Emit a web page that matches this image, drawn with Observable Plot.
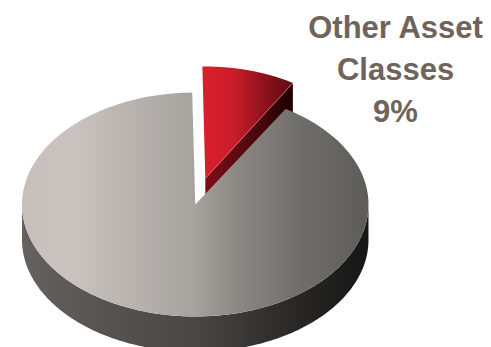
<!DOCTYPE html>
<html>
<head>
<meta charset="utf-8">
<script src="https://cdn.jsdelivr.net/npm/d3@7"></script>
<script src="https://cdn.jsdelivr.net/npm/@observablehq/plot@0.6"></script>
<style>
  html, body { margin: 0; padding: 0; background: #fff; }
  svg { display: block; }
</style>
</head>
<body>
<div id="chart"></div>
<script>
// Allocation shares, in percent
const categories = ["Core Holdings", "Other Asset Classes"];
const shares = [91, 9];
const calloutLines = ["Other Asset", "Classes"];

// Pie geometry in unit-circle terms
const thickness = 0.315;             // wall height, in y units
const lift = { x: 0.058, y: 0.232 }; // how far the small slice is pulled out
const twist = -1;                    // degrees of rotation of the whole pie
const narrowing = 0.97;              // the pulled-out slice reads slightly narrower

const rim = (deg, dx = 0, dy = 0, sx = 1) => {
  const a = (deg + twist) * Math.PI / 180;
  return { x: Math.sin(a) * sx + dx, y: Math.cos(a) + dy };
};
const arc = (from, to, dx = 0, dy = 0, sx = 1) =>
  d3.range(0, 181).map(i => rim(from + (to - from) * i / 180, dx, dy, sx));

const smallSweep = shares[1] / d3.sum(shares) * 360;

// Top faces and walls
const mainTop = [{ x: 0, y: 0 }, ...arc(smallSweep, 360)];
const mainWall = [
  ...arc(90, 270),
  ...arc(270, 90, 0, -thickness)
];
const smallTop = [
  { x: lift.x, y: lift.y },
  ...arc(0, smallSweep, lift.x, lift.y, narrowing)
];
const smallCut = [
  { x: lift.x, y: lift.y },
  rim(smallSweep, lift.x, lift.y, narrowing),
  rim(smallSweep, lift.x, lift.y - thickness, narrowing),
  { x: lift.x, y: lift.y - thickness }
];

// Horizontal shading ramps used by the faces
const ramps = {
  mainTopShade: [[0, "#c6bfbc"], [0.15, "#c9c2bf"], [0.5, "#a6a29e"], [0.63, "#8a8783"], [0.8, "#706e6b"], [1, "#5e5c59"]],
  mainWallShade: [[0, "#65615e"], [0.22, "#575451"], [0.5, "#494745"], [0.8, "#282726"], [1, "#161616"]],
  smallTopShade: [[0, "#da1f2c"], [0.35, "#c81d29"], [0.7, "#8c121b"], [1, "#5e0a12"]],
  smallCutShade: [[0, "#7d0e17"], [0.5, "#52090f"], [1, "#1e0003"]]
};

const gradients = () => {
  const defs = d3.create("svg:defs");
  for (const [id, stops] of Object.entries(ramps)) {
    const g = defs.append("linearGradient").attr("id", id);
    for (const [offset, color] of stops) {
      g.append("stop").attr("offset", offset).attr("stop-color", color);
    }
  }
  return defs.node();
};

const face = (points, fill, extra = {}) =>
  Plot.line(points, { x: "x", y: "y", curve: "linear-closed", stroke: "none", fill, ...extra });

const chart = Plot.plot({
  width: 491,
  height: 347,
  margin: 0,
  x: { domain: [-1, 1], range: [21.5, 368], axis: null },
  y: { domain: [-1, 1], range: [316, 92], axis: null },
  marks: [
    gradients,
    face(smallCut, "url(#smallCutShade)"),
    face(smallTop, "url(#smallTopShade)"),
    Plot.line([smallTop[0], smallTop[smallTop.length - 1]], {
      x: "x", y: "y", stroke: "#e2747c", strokeWidth: 0.7
    }),
    face(mainWall, "url(#mainWallShade)"),
    face(mainTop, "url(#mainTopShade)"),
    Plot.text([[...calloutLines, `${shares[1]}%`].join("\n")], {
      x: 1.156,
      y: 1.236,
      text: d => d,
      textAnchor: "middle",
      lineAnchor: "middle",
      lineHeight: 1.355,
      fontSize: 31,
      fontWeight: "bold",
      fontFamily: "Liberation Sans, Arial, sans-serif",
      fill: "#6f645c"
    })
  ]
});

document.getElementById("chart").append(chart);
</script>
</body>
</html>
